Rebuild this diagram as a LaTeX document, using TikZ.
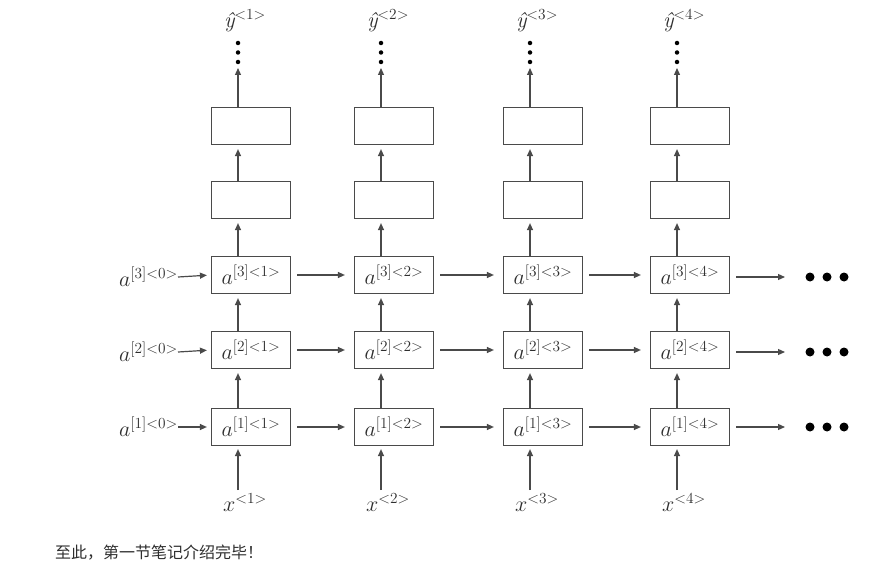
\RequirePackage{fix-cm}
\documentclass[tikz,border=0pt]{standalone}
\usepackage{fontspec}
\newfontfamily\cjk{Noto Sans CJK SC}
\usetikzlibrary{arrows.meta,calc}
\definecolor{ln}{HTML}{4A4A4A}
\definecolor{tx}{HTML}{2E2E2E}
\begin{document}
\begin{tikzpicture}[x=1pt,y=-1pt,
  arr/.style={draw=ln,line width=1.2pt,-{Triangle[length=7pt,width=6pt]}},
  cell/.style={draw=ln,line width=1.2pt,minimum width=79pt,minimum height=37pt,inner sep=0pt,text=tx,font=\fontsize{22}{26}\selectfont},
  lab/.style={inner sep=0pt,text=tx,font=\fontsize{22}{26}\selectfont},
  dot/.style={fill=black,circle,inner sep=0pt,minimum size=#1}]
\useasboundingbox (0,0) rectangle (890,567);
% columns
\foreach \c/\xx in {1/251,2/394,3/543,4/690}{
  \node[cell] (h1\c) at (\xx,200) {};
  \node[cell] (h2\c) at (\xx,126) {};
  \node[cell] (a3\c) at (\xx,275) {$a^{[3]<\c>}$};
  \node[cell] (a2\c) at (\xx,350) {$a^{[2]<\c>}$};
  \node[cell] (a1\c) at (\xx,427) {$a^{[1]<\c>}$};
  \node[lab] (x\c) at (\xx-6,503) {$x^{<\c>}$};
  \node[lab] (y\c) at (\xx-6,21) {{\itshape ŷ}$^{<\c>}$};
  \coordinate (xs\c) at (\xx-13,490);
  \node[dot=4.5pt] (d1\c) at (\xx-13,43) {};
  \node[dot=4.5pt] (d2\c) at (\xx-13,52.5) {};
  \node[dot=4.5pt] (d3\c) at (\xx-13,62) {};
  \draw[arr,shorten >=3pt] (xs\c) -- ([xshift=-13pt]a1\c.south);
  \draw[arr,shorten >=4pt] ([xshift=-13pt]a1\c.north) -- ([xshift=-13pt]a2\c.south);
  \draw[arr,shorten >=4pt] ([xshift=-13pt]a2\c.north) -- ([xshift=-13pt]a3\c.south);
  \draw[arr,shorten >=4pt] ([xshift=-13pt]a3\c.north) -- ([xshift=-13pt]h1\c.south);
  \draw[arr,shorten >=4pt] ([xshift=-13pt]h1\c.north) -- ([xshift=-13pt]h2\c.south);
  \draw[arr,shorten >=6pt] ([xshift=-13pt]h2\c.north) -- (d3\c.center);
}
% rows
\foreach \r/\yy in {3/277,2/352,1/427}{
  \node[lab,anchor=east] (l\r) at (178,\yy) {$a^{[\r]<0>}$};
  \draw[arr,shorten >=4pt] (l\r.east) -- (a\r1.west);
  \draw[arr,shorten <=6pt,shorten >=9pt] (a\r1.east) -- (a\r2.west);
  \draw[arr,shorten <=6pt,shorten >=9pt] (a\r2.east) -- (a\r3.west);
  \draw[arr,shorten <=6pt,shorten >=9pt] (a\r3.east) -- (a\r4.west);
  \coordinate (e\r) at (785,\yy);
  \draw[arr,shorten <=6pt] (a\r4.east |- e\r) -- (e\r);
  \node[dot=9pt] (f1\r) at (810,\yy) {};
  \node[dot=9pt] (f2\r) at (827,\yy) {};
  \node[dot=9pt] (f3\r) at (844,\yy) {};
}
\node[anchor=west,inner sep=0pt,text=tx,font=\cjk\fontsize{16}{18}\selectfont] (cap) at (55,553) {至此，第一节笔记介绍完毕！};
\end{tikzpicture}
\end{document}
